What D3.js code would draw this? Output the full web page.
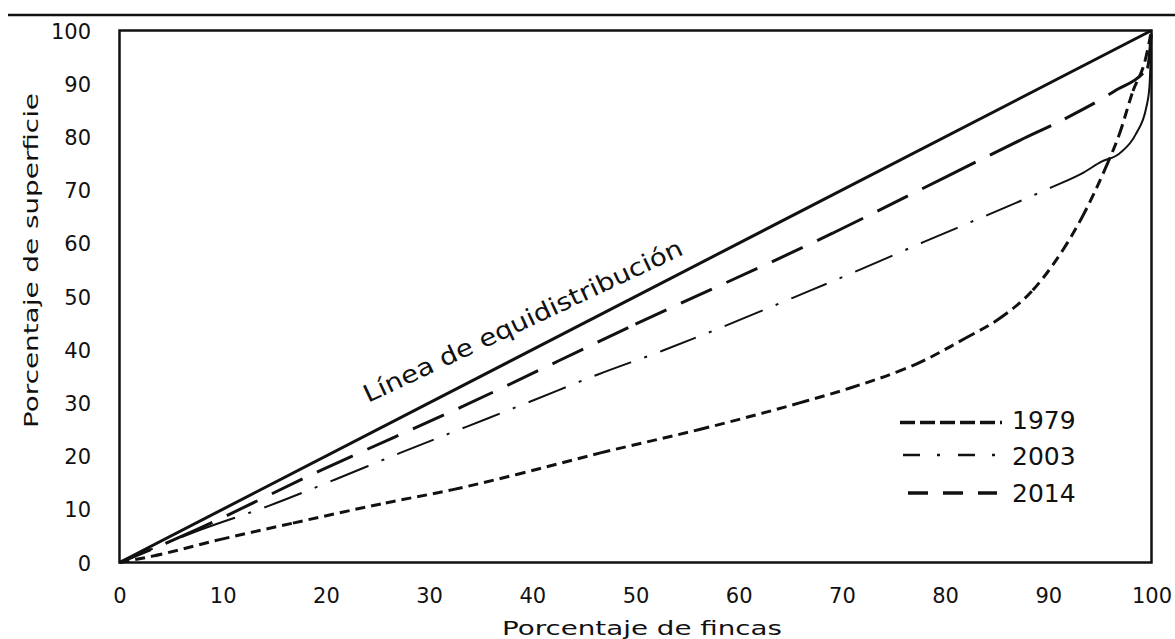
<!DOCTYPE html>
<html><head><meta charset="utf-8">
<script src="https://cdn.jsdelivr.net/npm/d3@7"></script>
<style>body{margin:0;background:#fff}svg{display:block}</style>
</head><body>
<svg id="c" width="1175" height="639"></svg>
<script>
// ---- data ----
const xTicks = [0,10,20,30,40,50,60,70,80,90,100];
const yTicks = [0,10,20,30,40,50,60,70,80,90,100];
const xTitle = "Porcentaje de fincas";
const yTitle = "Porcentaje de superficie";
const equiLabel = "Línea de equidistribución";
const equidistribution = [[0,0],[100,100]];
const s1979 = [[0,0],[3.2,1.2],[9.7,4.3],[16.8,7.4],[25.8,11.2],[32.3,13.7],[38.4,16.5],[46.6,20.6],[56.2,25.0],[65.9,30.0],[70.8,32.8],[75.3,35.8],[77.2,37.3],[82.0,42.2],[85.3,45.9],[88.5,51.2],[91.4,58.7],[93.3,65.0],[95.6,74.4],[96.9,80.6],[98.2,88.6],[99.4,94.5],[100,100]];
const s2003 = [[0,0],[7.9,6.2],[14.4,10.6],[20.9,15.6],[27.2,20.6],[33.6,25.5],[40.0,30.4],[46.3,35.3],[52.6,39.8],[59.1,44.8],[65.3,49.8],[71.7,55.0],[78.0,60.3],[84.2,65.4],[90.4,70.6],[93.5,73.4],[95.1,75.3],[96.9,76.9],[98.5,80.6],[99.5,85.6],[99.8,89.4],[100,100]];
const s2014 = [[0,0],[6.0,4.9],[19.6,17.4],[33.2,29.3],[50.0,44.8],[69.1,61.9],[80.0,72.4],[87.3,79.4],[91.6,83.4],[96.4,88.6],[99.6,93.0],[100,100]];
const legendLabels = ["1979","2003","2014"];

// ---- drawing ----
const svg = d3.select("#c");
const W = 1175, H = 639;
svg.append("rect").attr("width",W).attr("height",H).attr("fill","#fff");
const x = d3.scaleLinear().domain([0,100]).range([119.5,1151.5]);
const y = d3.scaleLinear().domain([0,100]).range([562.5,30.5]);
const ink = "#111";
const font = "'DejaVu Sans', sans-serif";

// top rule (remnant of cropped title)
svg.append("line").attr("x1",8).attr("x2",1175).attr("y1",15).attr("y2",15)
  .attr("stroke",ink).attr("stroke-width",2.5);

// axes (labels only)
const gx = svg.append("g").attr("transform",`translate(0,${y(0)})`)
  .call(d3.axisBottom(x).tickValues(xTicks).tickSize(0).tickFormat(d3.format("d")));
gx.select(".domain").remove();
gx.selectAll("text").attr("y",40).attr("dy",0).attr("fill",ink)
  .style("font-family",font).style("font-size","21px");

const gy = svg.append("g").attr("transform",`translate(${x(0)},0)`)
  .call(d3.axisLeft(y).tickValues(yTicks).tickSize(0).tickFormat(d3.format("d")));
gy.select(".domain").remove();
gy.selectAll("text").attr("x",-28.5).attr("dy","0.36em").attr("fill",ink)
  .style("font-family",font).style("font-size","21px");

// titles
svg.append("text").attr("x",642).attr("y",635).attr("text-anchor","middle")
  .attr("textLength",280).attr("lengthAdjust","spacingAndGlyphs")
  .style("font-family",font).style("font-size","20px").attr("fill",ink).text(xTitle);
svg.append("text").attr("transform","translate(38,260.5) rotate(-90)").attr("text-anchor","middle")
  .attr("textLength",335).attr("lengthAdjust","spacingAndGlyphs")
  .style("font-family",font).style("font-size","20px").attr("fill",ink).text(yTitle);

// lines: smooth curve, dash pattern restarting at each data point (as in the original renderer)
const line = d3.line().x(d=>x(d[0])).y(d=>y(d[1])).curve(d3.curveMonotoneX);
const plot = svg.append("g");
const tmp = svg.append("path").attr("fill","none").attr("stroke","none");
function restartDash(data, pattern){
  const pre = [0];
  for (let i=1;i<data.length;i++){
    tmp.attr("d", line(data.slice(0,i+1)));
    pre.push(tmp.node().getTotalLength());
  }
  let arr = [];
  for (let i=1;i<pre.length;i++){
    let rem = Math.max(0, pre[i]-pre[i-1]), k = 0;
    const seg = [];
    while (rem > 1e-6){ const v = Math.min(pattern[k%pattern.length], rem); seg.push(v); rem -= v; k++; }
    if (seg.length % 2 === 1) seg.push(0);
    arr = arr.concat(seg);
  }
  arr.push(0, 5000);
  return arr.map(v=>v.toFixed(2)).join(",");
}
function drawSeries(data, pattern, width){
  plot.append("path").attr("d", line(data)).attr("fill","none").attr("stroke",ink)
    .attr("stroke-width",width)
    .attr("stroke-dasharray", pattern ? restartDash(data, pattern) : null);
}
drawSeries(equidistribution, null, 3);
drawSeries(s1979, [10,6], 3);
drawSeries(s2003, [36,14,3,14], 2);
drawSeries(s2014, [34,16], 3);
tmp.remove();

// frame
svg.append("rect").attr("x",x(0)).attr("y",y(100)).attr("width",x(100)-x(0)).attr("height",y(0)-y(100))
  .attr("fill","none").attr("stroke",ink).attr("stroke-width",2.5);

// equidistribution label
svg.append("text").attr("transform","translate(368,403) rotate(-25.2)")
  .attr("textLength",350).attr("lengthAdjust","spacingAndGlyphs")
  .style("font-family",font).style("font-size","24px").attr("fill",ink).text(equiLabel);

// legend
const legendStyle = [
  {x1:900,x2:1002,y:422.5,dash:"15,5",w:3.5},
  {x1:903,x2:997,y:455,dash:"17,17,3,18",w:2.5},
  {x1:908,x2:997,y:493,dash:"20,15",w:3.5}
];
const lg = svg.append("g");
legendLabels.forEach((lab,i)=>{
  const s = legendStyle[i];
  lg.append("line").attr("x1",s.x1).attr("x2",s.x2).attr("y1",s.y).attr("y2",s.y)
    .attr("stroke",ink).attr("stroke-width",s.w).attr("stroke-dasharray",s.dash);
  lg.append("text").attr("x",1012).attr("y",[428.5,465,502][i])
    .style("font-family",font).style("font-size","25px").attr("fill",ink).text(lab);
});
</script>
</body></html>
